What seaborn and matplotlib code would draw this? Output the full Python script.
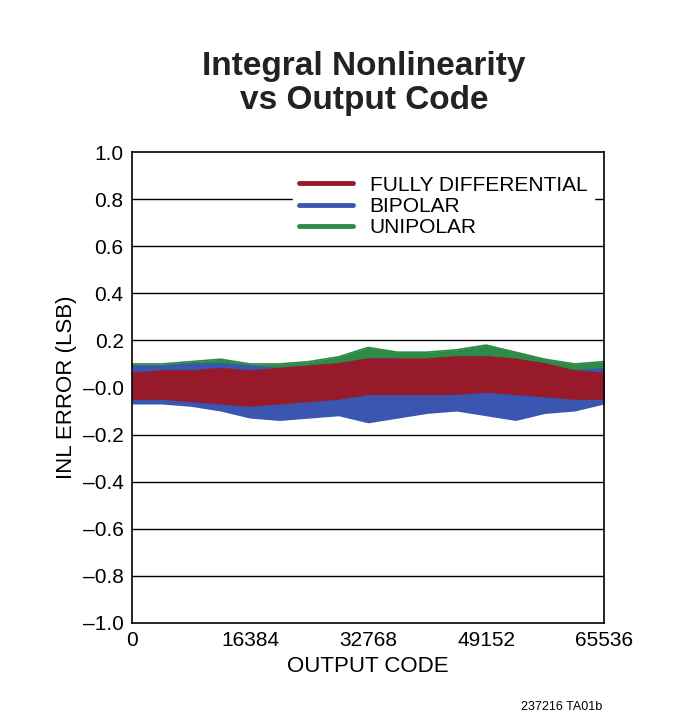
import numpy as np
import pandas as pd
import matplotlib.pyplot as plt
import seaborn as sns

codes = [0, 4096, 8192, 12288, 16384, 20480, 24576, 28672, 32768, 36864,
         40960, 45056, 49152, 53248, 57344, 61440, 65536]
uni_hi = [0.10, 0.10, 0.11, 0.12, 0.10, 0.10, 0.11, 0.13, 0.17, 0.15, 0.15, 0.16, 0.18, 0.15, 0.12, 0.10, 0.11]
uni_lo = [-0.05, -0.05, -0.06, -0.06, -0.07, -0.06, -0.05, -0.04, -0.03, -0.03, -0.02, -0.02, -0.02, -0.03, -0.04, -0.05, -0.05]
bip_hi = [0.09, 0.09, 0.10, 0.10, 0.09, 0.08, 0.09, 0.10, 0.12, 0.12, 0.11, 0.12, 0.13, 0.11, 0.09, 0.07, 0.08]
bip_lo = [-0.07, -0.07, -0.08, -0.10, -0.13, -0.14, -0.13, -0.12, -0.15, -0.13, -0.11, -0.10, -0.12, -0.14, -0.11, -0.10, -0.07]
fd_hi = [0.06, 0.07, 0.07, 0.08, 0.07, 0.08, 0.09, 0.10, 0.12, 0.12, 0.12, 0.13, 0.13, 0.12, 0.10, 0.07, 0.06]
fd_lo = [-0.05, -0.05, -0.06, -0.07, -0.08, -0.07, -0.06, -0.05, -0.03, -0.03, -0.03, -0.03, -0.02, -0.03, -0.04, -0.05, -0.05]
yticks = [-1.0, -0.8, -0.6, -0.4, -0.2, 0.0, 0.2, 0.4, 0.6, 0.8, 1.0]
ylabels = ["\u20131.0", "\u20130.8", "\u20130.6", "\u20130.4", "\u20130.2", "\u20130.0",
           "0.2", "0.4", "0.6", "0.8", "1.0"]
xticks = [0, 16384, 32768, 49152, 65536]

df = pd.DataFrame({"code": codes, "uh": uni_hi, "ul": uni_lo, "bh": bip_hi,
                   "bl": bip_lo, "fh": fd_hi, "fl": fd_lo})

sns.set_style("white")
plt.rcParams["font.family"] = ["Liberation Sans", "DejaVu Sans"]
plt.rcParams["text.color"] = "black"
fig = plt.figure(figsize=(7, 7.25), dpi=100)
ax = fig.add_axes([132 / 700, 1 - 623 / 725, 472 / 700, 471 / 725])

series = [("UNIPOLAR", "uh", "ul", "#2e8b47"),
          ("BIPOLAR", "bh", "bl", "#3a56b0"),
          ("FULLY DIFFERENTIAL", "fh", "fl", "#971a2a")]
handles = {}
for name, hi, lo, col in series:
    ax.fill_between(df["code"], df[lo], df[hi], color=col, lw=0, zorder=2)
    sns.lineplot(x=df["code"], y=df[hi], ax=ax, color=col, lw=1.2, zorder=2)
    h, = ax.plot([], [], color=col, lw=3.5)
    handles[name] = h

for y in yticks[1:-1]:
    ax.axhline(y, color="black", lw=1, zorder=1)

ax.set_xlim(0, 65536)
ax.set_ylim(-1, 1)
ax.set_xticks(xticks)
ax.set_xticklabels([str(x) for x in xticks], fontsize=15, color="black")
ax.set_yticks(yticks)
ax.set_yticklabels(ylabels, fontsize=15, color="black")
ax.tick_params(length=0, pad=6)
for s in ax.spines.values():
    s.set_color("black")
    s.set_linewidth(1.2)
ax.set_xlabel("OUTPUT CODE", fontsize=16, color="black")
ax.set_ylabel("INL ERROR (LSB)", fontsize=16, color="black")

names = ["FULLY DIFFERENTIAL", "BIPOLAR", "UNIPOLAR"]
leg = ax.legend([handles[n] for n in names], names, loc="upper right", fontsize=15,
                frameon=True, framealpha=1, edgecolor="white", fancybox=False,
                handlelength=2.6, labelspacing=0.1, borderpad=0.3,
                bbox_to_anchor=(1.0, 0.985))
for t in leg.get_texts():
    t.set_color("black")
leg.set_zorder(5)

fig.text(0.52, 0.885, "Integral Nonlinearity\nvs Output Code", ha="center", va="center",
         fontsize=24, fontweight="bold", linespacing=1.1, color="#222222")
fig.text(0.86, 0.02, "237216 TA01b", ha="right", fontsize=9)
fig.savefig("out.png", dpi=100, facecolor="white")
